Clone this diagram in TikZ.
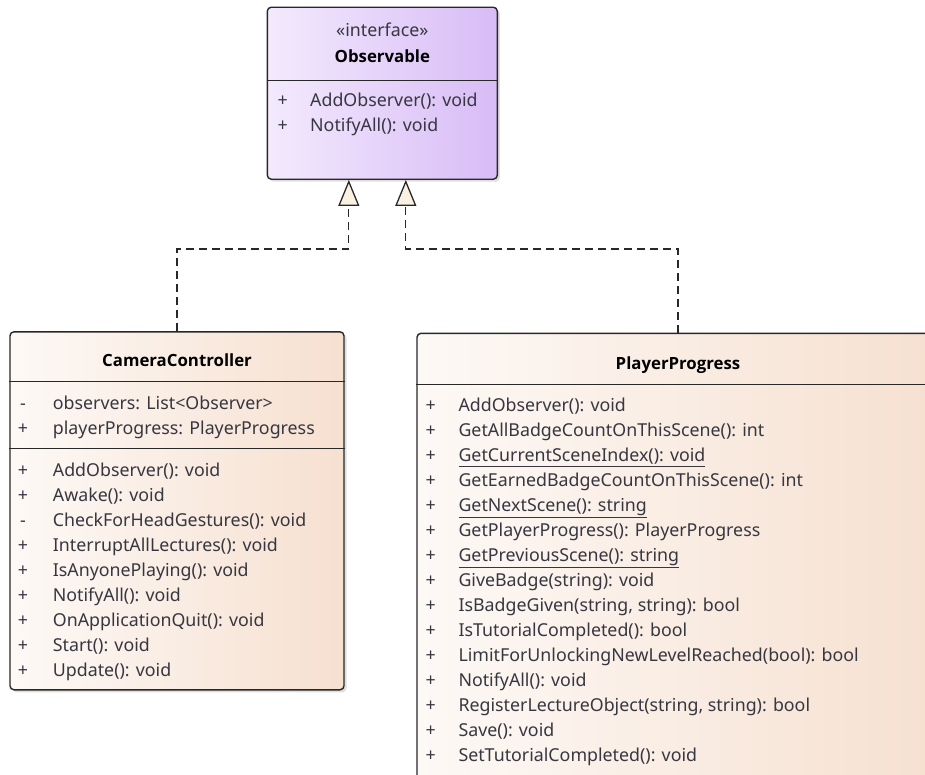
\documentclass[tikz,border=0pt]{standalone}
\usepackage{fontspec}
\setmainfont{Noto Sans}
\newfontfamily\ttlfam{Open Sans}
\usetikzlibrary{arrows.meta,shadows,calc}
\definecolor{obsL}{RGB}{243,234,253}
\definecolor{obsR}{RGB}{216,188,246}
\definecolor{clsL}{RGB}{253,249,246}
\definecolor{clsR}{RGB}{246,224,208}
\definecolor{edge}{RGB}{40,40,40}
\definecolor{txt}{RGB}{55,55,65}
\definecolor{tipfill}{RGB}{250,241,226}
\newcommand{\membfont}{\fontsize{17.8}{17.8}\selectfont}
\newcommand{\ttlfont}{\ttlfam\bfseries\fontsize{16.8}{16.8}\selectfont}
\begin{document}
\begin{tikzpicture}[x=1pt,y=-1pt,
  classbox/.style={draw=edge, line width=1.4pt, rounded corners=4pt, inner sep=0pt,
    drop shadow={shadow xshift=2.5pt,shadow yshift=-2.5pt,opacity=0.25}},
  obsfill/.style={left color=obsL, right color=obsR},
  clsfill/.style={left color=clsL, right color=clsR},
  divider/.style={draw=edge, line width=1.4pt},
  ttl/.style={anchor=base, inner sep=0pt, font=\ttlfont, text=black},
  stereo/.style={anchor=base, inner sep=0pt, font=\membfont, text=txt},
  vis/.style={anchor=base, inner sep=0pt, font=\membfont, text=txt},
  memb/.style={anchor=base west, inner sep=0pt, font=\membfont, text=txt},
  realize/.style={draw=edge, line width=1.3pt, dash pattern=on 8pt off 5pt,
    -{Triangle[width=21pt,length=26pt,fill=tipfill]}}
]
\useasboundingbox (0,0) rectangle (925,774);
\clip (0,0) rectangle (925,774);

% class boxes
\node[classbox, obsfill, minimum width=230pt, minimum height=172pt] (obs) at (382.3,93.2) {};
\node[classbox, clsfill, minimum width=334pt, minimum height=358pt] (cc) at (177,510.8) {};
\node[classbox, clsfill, minimum width=522pt, minimum height=460pt] (pp) at (678,563.3) {};

% dividers
\draw[divider] (obs.west |- 0,80.7) -- (obs.east |- 0,80.7);
\draw[divider] (cc.west |- 0,381.7) -- (cc.east |- 0,381.7);
\draw[divider] (cc.west |- 0,448.3) -- (cc.east |- 0,448.3);
\draw[divider] (pp.west |- 0,384.3) -- (pp.east |- 0,384.3);

% Observable
\node[stereo] (obs-st) at (382.3,36.7) {«interface»};
\node[ttl] (obs-t) at (382.3,62.7) {Observable};
\foreach \v/\t [count=\i] in {+/{AddObserver(): void}, +/{NotifyAll(): void}} {
  \node[vis] (obs-v\i) at (282.7,81.7+25*\i) {\v};
  \node[memb] (obs-m\i) at (310,81.7+25*\i) {\t};
}

% CameraController
\node[ttl] (cc-t) at (177,366.7) {CameraController};
\foreach \v/\t [count=\i] in {-/{observers: List<Observer>}, +/{playerProgress: PlayerProgress}} {
  \node[vis] (cc-a\i) at (23,384.5+25*\i) {\v};
  \node[memb] (cc-at\i) at (52.7,384.5+25*\i) {\t};
}
\foreach \v/\t [count=\i] in {+/{AddObserver(): void}, +/{Awake(): void}, -/{CheckForHeadGestures(): void},
  +/{InterruptAllLectures(): void}, +/{IsAnyonePlaying(): void}, +/{NotifyAll(): void},
  +/{OnApplicationQuit(): void}, +/{Start(): void}, +/{Update(): void}} {
  \node[vis] (cc-v\i) at (23,451+25*\i) {\v};
  \node[memb] (cc-m\i) at (52.7,451+25*\i) {\t};
}

% PlayerProgress
\node[ttl] (pp-t) at (678,369.3) {PlayerProgress};
\foreach \v/\t [count=\i] in {+/{AddObserver(): void}, +/{GetAllBadgeCountOnThisScene(): int},
  +/{\underline{GetCurrentSceneIndex(): void}}, +/{GetEarnedBadgeCountOnThisScene(): int},
  +/{\underline{GetNextScene(): string}}, +/{GetPlayerProgress(): PlayerProgress},
  +/{\underline{GetPreviousScene(): string}}, +/{GiveBadge(string): void},
  +/{IsBadgeGiven(string, string): bool}, +/{IsTutorialCompleted(): bool},
  +/{LimitForUnlockingNewLevelReached(bool): bool}, +/{NotifyAll(): void},
  +/{RegisterLectureObject(string, string): bool}, +/{Save(): void},
  +/{SetTutorialCompleted(): void}} {
  \node[vis] (pp-v\i) at (430.7,386.7+25*\i) {\v};
  \node[memb] (pp-m\i) at (458.3,386.7+25*\i) {\t};
}

% realizations
\coordinate (t1) at ($(obs.south)+(-33.5,0)$);
\coordinate (t2) at ($(obs.south)+(23.5,0)$);
\draw[realize] (cc.north) -- (cc.north |- 0,249) -| (t1);
\draw[realize] (pp.north) -- (pp.north |- 0,249) -| (t2);
\end{tikzpicture}
\end{document}
